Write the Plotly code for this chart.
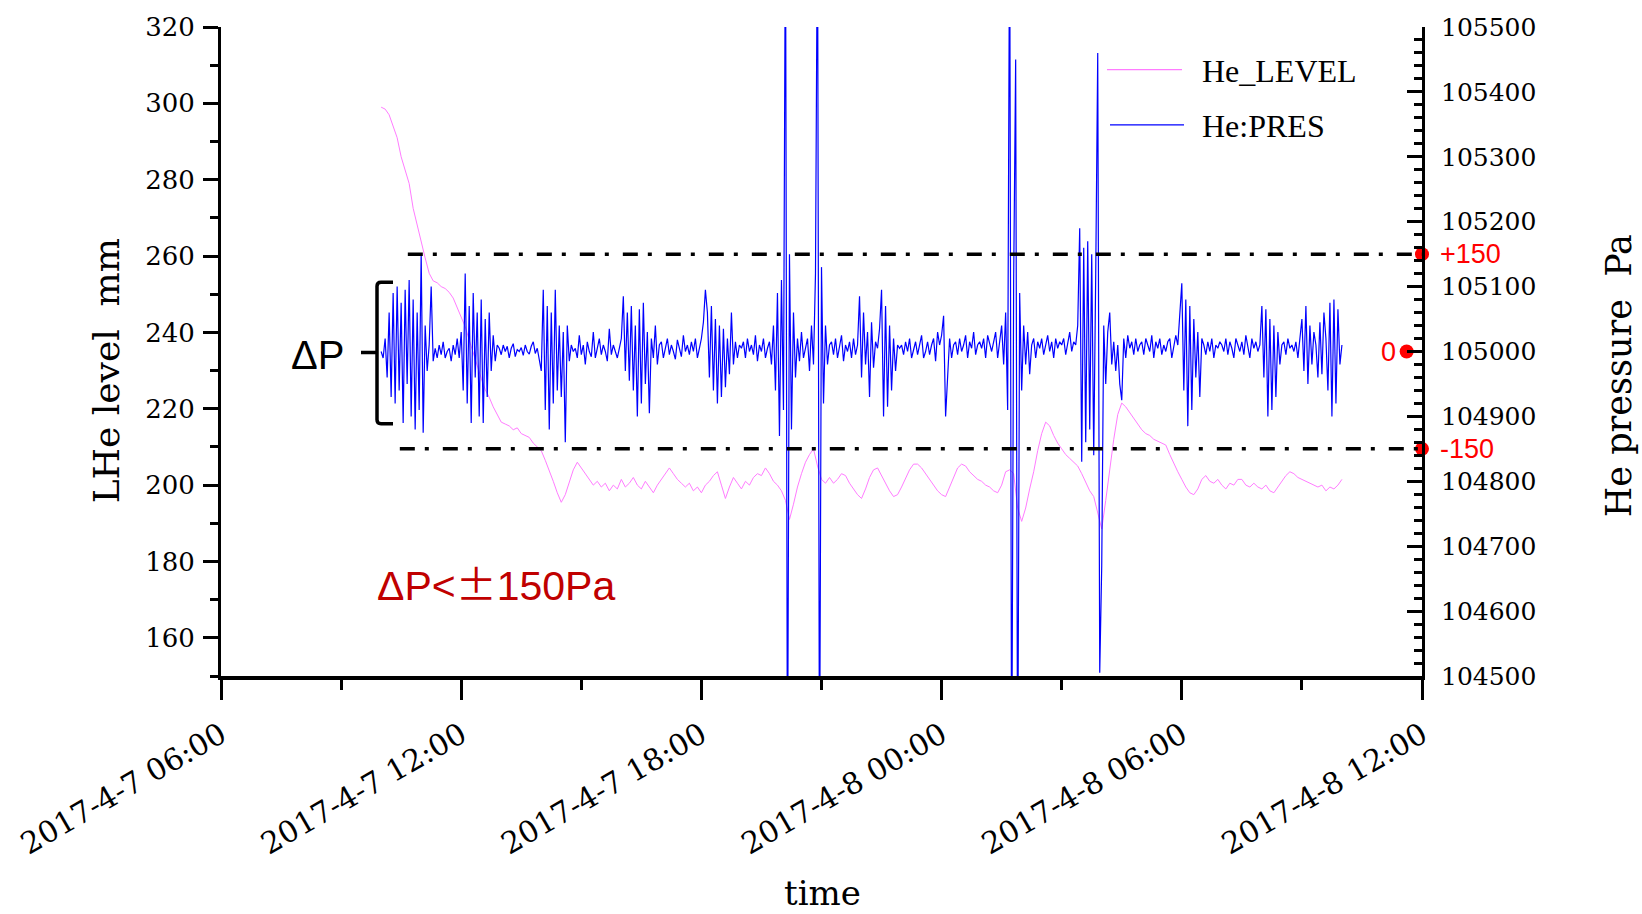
import pandas as pd
import plotly.graph_objects as go

# ---------------- data ----------------
x_tick_vals = ["2017-04-07 06:00", "2017-04-07 12:00", "2017-04-07 18:00",
               "2017-04-08 00:00", "2017-04-08 06:00", "2017-04-08 12:00"]
x_tick_text = ["2017-4-7 06:00", "2017-4-7 12:00", "2017-4-7 18:00",
               "2017-4-8 00:00", "2017-4-8 06:00", "2017-4-8 12:00"]

# He level (mm), sampled every 6 min from 2017-04-07 10:00
level_start = "2017-04-07 10:00"
level_step_min = 6
he_level = [
    299, 298.5, 297, 294, 291, 286, 282.5, 279, 272.5, 268,
    264, 259.5, 255.5, 253.5, 253, 252, 251.5, 250.5, 249, 246.5,
    244, 241.5, 238, 234.5, 231, 228, 225, 223, 220.5, 218.5,
    216.5, 216, 215.5, 214.5, 215, 213.5, 213, 212.5, 211, 210,
    209, 206.5, 204, 201, 198, 195.5, 197.5, 201, 204, 206,
    204.5, 203, 201.5, 200, 201, 199.5, 200.5, 198.5, 200, 199,
    201.5, 199.5, 200.5, 202, 200, 199, 201, 199.5, 198, 200,
    201.5, 203, 204.5, 203, 201.5, 200.5, 199.5, 200.5, 198.5, 199.5,
    198, 200, 201, 202.5, 203.5, 200, 196.5, 199.5, 202, 200.5,
    199, 201, 200, 202, 203, 202.5, 204.5, 203, 201, 200,
    198.5, 196, 191, 195, 199.5, 203, 206, 208, 209.5, 205,
    201.5, 200.5, 202, 200.5, 201.5, 203, 202.5, 200.5, 199, 197.5,
    196.5, 199, 202, 204, 204.5, 202.5, 200.5, 198.5, 197, 197.5,
    199.5, 202, 204, 205.5, 205.5, 204.5, 203, 201.5, 200, 198.5,
    197.5, 197, 199.5, 202, 204.5, 205.5, 205, 203.5, 202.5, 201.5,
    201, 200, 199.5, 198.5, 198, 200, 203.5, 204, 203, 194,
    190.5, 194, 199, 203.5, 209, 213.5, 216.5, 215.5, 213, 211,
    209.5, 208, 207, 206, 205, 203, 200.5, 198.5, 197, 193,
    188.5, 196, 204, 212, 218.5, 221.5, 220.5, 219, 217.5, 216,
    214.5, 213.5, 213, 212, 211.5, 211, 210.5, 208, 205.5, 203.5,
    201.5, 199.5, 198, 197.5, 199, 201.5, 202.5, 201, 200.5, 201.5,
    200, 199, 200.5, 200, 201.5, 201.5, 200, 199.5, 200.5, 199.5,
    199, 200, 198.5, 198, 199.5, 201, 202.5, 203.5, 203, 202,
    201.5, 201, 200.5, 200, 199.5, 200, 198.5, 199.5, 199, 200,
    201.5,
]

# He pressure deviation from 105000 Pa, sampled every 3 min from 2017-04-07 10:00
pres_start = "2017-04-07 10:00"
pres_step_min = 3
pres_zero = 105000
pres_dev = [
    0, -10, 20, -40, 60, -70, 90, -80, 100, -60, 75, -110, 95, -50, 110, -100, 80, -120, 60, -90,
    150, -125, 40, -30, 10, 100, -15, 5, -10, 10, -5, 15, -10, 0, 5, -15, 10, -5, 20, -10,
    30, -60, 120, -80, 70, -110, 90, -40, 60, -100, 80, -110, 50, -70, 60, -30, 25, -15, 10, 5,
    -5, 10, 0, 8, -10, 5, 12, -8, 3, 0, 6, -6, 10, 0, -4, 8, 15, -3, 5, -10,
    -30, 95, -90, 70, -120, 60, -80, 95, -60, 40, -70, 30, -140, 40, -15, 10, 0, 5, -10, 25,
    -5, 10, -20, 15, 0, -8, 30, -10, 5, 20, -5, 10, 0, -15, 35, -5, 10, 0, -10, 5,
    20, 85, -30, 60, -45, 70, -60, 40, -100, 65, -80, 75, -50, 30, -95, 20, -10, 40, -20, 10,
    15, -10, 5, 20, -5, 10, 0, -12, 18, 5, -8, 25, 0, 10, -5, 15, 0, 20, -10, 5,
    20, 45, 95, 60, -40, 70, -60, 50, -80, 40, -70, 35, -55, 20, -35, 60, -20, 15, -10, 10,
    5, 15, -10, 20, 0, 10, -5, 25, -15, 10, 0, 20, -10, 5, 15, -20, 40, -60, 90, -130,
    110, -90, 700, -700, 150, -120, 60, -40, 20, -15, 30, -10, 5, 20, -30, 40, -20, 120, 700, -700,
    130, -80, 40, -20, 10, 15, -5, 20, -10, 5, 25, -15, 10, 0, 15, -10, 20, -5, 10, 85,
    -40, 60, -20, 30, -70, 45, -25, 15, 5, 35, 95, -100, 70, -85, 40, -60, 20, -30, 10, 5,
    10, -5, 15, 0, 20, -10, 5, 15, -5, 10, 25, -10, 0, 15, -5, 10, 20, -15, 30, 10,
    25, 55, -100, -40, 20, -10, 10, 15, -5, 20, 0, 10, 25, -10, 15, 5, 30, -5, 10, 15,
    5, 20, -10, 25, 10, 0, 15, 30, -10, 20, 40, -20, 60, -90, 700, -700, 110, 450, -700, 90,
    -60, 40, -20, 30, -35, 10, 20, -10, 15, 5, 20, -5, 10, 25, 0, 15, -10, 20, 5, 15,
    10, 20, -5, 15, 30, 0, 15, 10, 40, 190, -170, 160, -140, 170, -120, 150, -160, 120, 460, -495,
    -330, 40, -50, 30, 60, -20, 15, -30, 10, -50, -75, 20, -10, 25, 5, 15, -5, 20, 0, 10,
    15, -5, 20, 10, 0, 25, -10, 15, 5, 20, -5, 10, 0, 15, 20, -10, 5, 25, 10, 60,
    105, -60, 80, -115, 70, -90, 50, -40, 30, -70, 20, 10, -5, 15, 0, 20, -10, 10, 5, 15,
    10, 0, 20, -5, 15, 5, -10, 20, 10, 0, 15, -5, 25, 10, -10, 20, 5, 15, 0, 10,
    70, -40, 65, -100, 50, -90, 40, -70, 30, -20, 10, 15, -5, 20, 5, 10, 0, 15, -10, 20,
    50, -30, 70, -50, 40, -20, 30, 10, -40, 45, -35, 60, 20, -60, 75, -100, 80, -80, 65, -20,
    10,
]

limit_vals = [105150, 104850]          # ±150 Pa limits
limit_labels = ["+150", "-150"]

# ---------------- build ----------------
level_t = pd.date_range(level_start, periods=len(he_level), freq=f"{level_step_min}min")
pres_t = pd.date_range(pres_start, periods=len(pres_dev), freq=f"{pres_step_min}min")
pres = [pres_zero + d for d in pres_dev]

X0, X1 = "2017-04-07 06:00", "2017-04-08 12:00"
SERIF = "DejaVu Serif"
SANS = "Liberation Sans"
PINK = "#FF7CFF"
BLUE = "#0000FF"
RED = "#FF0000"

fig = go.Figure()
fig.add_trace(go.Scatter(x=level_t, y=he_level, mode="lines", name="He_LEVEL",
                         line=dict(color=PINK, width=1), yaxis="y", showlegend=False))
fig.add_trace(go.Scatter(x=pres_t, y=pres, mode="lines", name="He:PRES",
                         line=dict(color=BLUE, width=1.2), yaxis="y2", showlegend=False))

# red markers at limits and zero
fig.add_trace(go.Scatter(x=[X1, X1], y=limit_vals, mode="markers", yaxis="y2",
                         marker=dict(color=RED, size=14), cliponaxis=False, showlegend=False))
fig.add_trace(go.Scatter(x=["2017-04-08 11:37"], y=[pres_zero], mode="markers", yaxis="y2",
                         marker=dict(color=RED, size=14), cliponaxis=False, showlegend=False))

W, H = 1642, 914
L, R, T, B = 221, 220, 20, 238
PW, PH = W - L - R, H - T - B


def px(x):
    return (x - L) / PW


def py(y):
    return (H - B - y) / PH


shapes = []
# dash-dot limit lines
shapes.append(dict(type="line", xref="x", yref="y2", x0="2017-04-07 10:40", x1=X1,
                   y0=limit_vals[0], y1=limit_vals[0],
                   line=dict(color="black", width=3.5, dash="15px,10px,4px,14px")))
shapes.append(dict(type="line", xref="x", yref="y2", x0="2017-04-07 10:28", x1=X1,
                   y0=limit_vals[1], y1=limit_vals[1],
                   line=dict(color="black", width=3.5, dash="15px,10px,4px,14px")))
# brace
brace = (f"M {px(393)},{py(278)} L {px(381)},{py(278)} Q {px(377)},{py(278)} {px(377)},{py(282)} "
         f"L {px(377)},{py(417)} Q {px(377)},{py(421)} {px(381)},{py(421)} L {px(393)},{py(421)} "
         f"M {px(361)},{py(349)} L {px(377)},{py(349)}")
shapes.append(dict(type="path", xref="paper", yref="paper", path=brace,
                   line=dict(color="black", width=3.5)))
# legend line samples
shapes.append(dict(type="line", xref="paper", yref="paper", x0=px(1107), x1=px(1182),
                   y0=py(63), y1=py(63), line=dict(color=PINK, width=1.2)))
shapes.append(dict(type="line", xref="paper", yref="paper", x0=px(1110), x1=px(1184),
                   y0=py(119), y1=py(119), line=dict(color=BLUE, width=1.2)))

ann = []
ann.append(dict(text="He_LEVEL", xref="paper", yref="paper", x=px(1200), y=py(64),
                xanchor="left", yanchor="middle", showarrow=False,
                font=dict(family="Liberation Serif", size=32, color="black")))
ann.append(dict(text="He:PRES", xref="paper", yref="paper", x=px(1200), y=py(120),
                xanchor="left", yanchor="middle", showarrow=False,
                font=dict(family="Liberation Serif", size=32, color="black")))
ann.append(dict(text="ΔP", xref="paper", yref="paper", x=px(317), y=py(352),
                xanchor="center", yanchor="middle", showarrow=False,
                font=dict(family=SANS, size=40, color="black")))
ann.append(dict(text="ΔP&lt;<span style=\"font-family:'Noto Sans CJK JP'\">±</span>150Pa",
                xref="paper", yref="paper", x=px(496), y=py(581),
                xanchor="center", yanchor="middle", showarrow=False,
                font=dict(family=SANS, size=41, color="#C00000")))
for v, lab in zip(limit_vals, limit_labels):
    ann.append(dict(text=lab, xref="paper", yref="y2", x=px(1438), y=v,
                    xanchor="left", yanchor="middle", showarrow=False,
                    font=dict(family=SANS, size=27, color=RED)))
ann.append(dict(text="0", xref="paper", yref="y2", x=px(1398), y=pres_zero,
                xanchor="right", yanchor="middle", showarrow=False,
                font=dict(family=SANS, size=27, color=RED)))
# axis titles
ann.append(dict(text="LHe level  mm", xref="paper", yref="paper", x=px(106), y=py(368),
                xanchor="center", yanchor="middle", textangle=-90, showarrow=False,
                font=dict(family=SERIF, size=36, color="black")))
ann.append(dict(text="He pressure  Pa", xref="paper", yref="paper", x=px(1619), y=py(373),
                xanchor="center", yanchor="middle", textangle=-90, showarrow=False,
                font=dict(family=SERIF, size=35, color="black")))
ann.append(dict(text="time", xref="paper", yref="paper", x=px(822), y=py(918),
                xanchor="center", yanchor="bottom", showarrow=False,
                font=dict(family=SERIF, size=34, color="black")))

fig.update_layout(
    width=W, height=H,
    margin=dict(l=L, r=R, t=T, b=B, pad=0),
    paper_bgcolor="white", plot_bgcolor="white",
    showlegend=False,
    shapes=shapes, annotations=ann,
    xaxis=dict(
        type="date", range=[X0, X1],
        tickmode="array", tickvals=x_tick_vals, ticktext=x_tick_text,
        tickangle=-30, tickfont=dict(family=SERIF, size=30, color="black"),
        ticks="outside", ticklen=20, tickwidth=2.5, tickcolor="black",
        minor=dict(tickmode="linear", tick0=X0, dtick=3 * 3600 * 1000,
                   ticks="outside", ticklen=10, tickwidth=2.5, tickcolor="black"),
        showline=True, linecolor="black", linewidth=3.5,
        showgrid=False, zeroline=False, ticklabelstandoff=6,
    ),
    yaxis=dict(
        range=[150, 320], tickmode="linear", tick0=160, dtick=20,
        tickfont=dict(family=SERIF, size=26, color="black"),
        ticks="outside", ticklen=15, tickwidth=2.5, tickcolor="black",
        minor=dict(dtick=10, ticks="outside", ticklen=8, tickwidth=2.5, tickcolor="black"),
        showline=True, linecolor="black", linewidth=3,
        showgrid=False, zeroline=False, ticklabelstandoff=3,
    ),
    yaxis2=dict(
        range=[104500, 105500], overlaying="y", side="right",
        tickmode="linear", tick0=104500, dtick=100, tickformat="d",
        tickfont=dict(family=SERIF, size=25, color="black"),
        ticks="inside", ticklen=15, tickwidth=2.5, tickcolor="black",
        minor=dict(dtick=20, ticks="inside", ticklen=8, tickwidth=2.5, tickcolor="black"),
        showline=True, linecolor="black", linewidth=3,
        showgrid=False, zeroline=False, ticklabelstandoff=11,
    ),
)

fig.write_html("out.html", config={"displayModeBar": False},
               post_script="document.body.style.margin='0px';")
